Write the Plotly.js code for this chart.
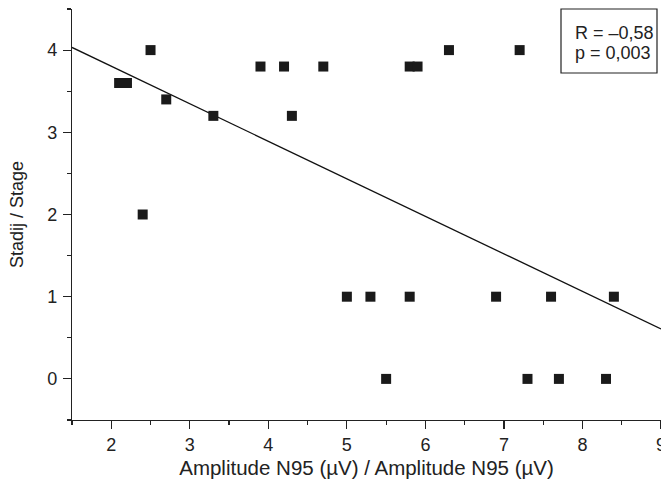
<!DOCTYPE html>
<html>
<head>
<meta charset="utf-8">
<script src="https://cdn.plot.ly/plotly-3.0.1.min.js"></script>
<style>html,body{margin:0;padding:0;background:#fff;overflow:hidden;}</style>
</head>
<body>
<div id="chart" style="width:661px;height:492px;"></div>
<script>
// Data
const amplitudeN95 = [2.1, 2.2, 2.5, 2.7, 3.3, 2.4, 3.9, 4.2, 4.3, 4.7, 5.8, 5.9, 6.3, 7.2,
                      5.0, 5.3, 5.8, 6.9, 7.6, 8.4, 5.5, 7.3, 7.7, 8.3];
const stage = [3.6, 3.6, 4, 3.4, 3.2, 2, 3.8, 3.8, 3.2, 3.8, 3.8, 3.8, 4, 4,
               1, 1, 1, 1, 1, 1, 0, 0, 0, 0];
const fitRangeX = [1.5, 9];
const xTickVals = [2, 3, 4, 5, 6, 7, 8, 9];
const yTickVals = [0, 1, 2, 3, 4];
const statsLabel = ["R = \u20130,58", "p = 0,003"];

// Least-squares regression line computed from the data
const n = amplitudeN95.length;
const mx = amplitudeN95.reduce((a, b) => a + b, 0) / n;
const my = stage.reduce((a, b) => a + b, 0) / n;
let sxy = 0, sxx = 0;
for (let i = 0; i < n; i++) {
  sxy += (amplitudeN95[i] - mx) * (stage[i] - my);
  sxx += (amplitudeN95[i] - mx) ** 2;
}
const slope = sxy / sxx;
const intercept = my - slope * mx;
const fitY = fitRangeX.map(x => intercept + slope * x);

const ink = "#222";
const font = {family: "Liberation Sans, Arial, sans-serif", size: 18, color: ink};

const traces = [
  {
    x: fitRangeX, y: fitY, mode: "lines", type: "scatter",
    line: {color: "#111", width: 1.3}, hoverinfo: "skip"
  },
  {
    x: amplitudeN95, y: stage, mode: "markers", type: "scatter",
    marker: {symbol: "square", size: 10, color: "#1a1a1a"}, cliponaxis: false
  }
];

const layout = {
  width: 661, height: 492,
  margin: {l: 72, r: 0, t: 9, b: 72},
  paper_bgcolor: "#fff", plot_bgcolor: "#fff",
  showlegend: false,
  font: font,
  xaxis: {
    range: [1.5, 9], tickvals: xTickVals, ticktext: xTickVals.map(String),
    showgrid: false, zeroline: false, showline: true, linecolor: ink, linewidth: 1.2,
    ticks: "outside", ticklen: 8, tickwidth: 1.2, tickcolor: ink,
    minor: {dtick: 0.5, tick0: 0, ticks: "outside", ticklen: 4, tickwidth: 1.2, tickcolor: ink, showgrid: false},
    ticklabeloverflow: "allow",
    tickfont: {size: 18},
    title: {text: "Amplitude N95 (\u00b5V) / Amplitude N95 (\u00b5V)", font: {size: 20.5}, standoff: 6},
    automargin: false
  },
  yaxis: {
    range: [-0.5, 4.5], tickvals: yTickVals, ticktext: yTickVals.map(String),
    showgrid: false, zeroline: false, showline: true, linecolor: ink, linewidth: 1.2,
    ticks: "outside", ticklen: 8, tickwidth: 1.2, tickcolor: ink,
    minor: {dtick: 0.5, tick0: 0.5, ticks: "outside", ticklen: 4, tickwidth: 1.2, tickcolor: ink, showgrid: false},
    tickfont: {size: 18},
    ticklabelstandoff: 2,
    title: {text: "Stadij / Stage", font: {size: 18}, standoff: 18},
    automargin: false
  },
  shapes: [{
    type: "rect", xref: "paper", yref: "paper",
    x0: (561 - 72) / 589, x1: (657 - 72) / 589, y0: (420 - 73) / 411, y1: 1.0,
    line: {color: ink, width: 1.2}, fillcolor: "#fff", layer: "above"
  }],
  annotations: statsLabel.map((t, i) => ({
    xref: "paper", yref: "paper",
    x: (573 - 72) / 589, y: (420 - (33 + i * 19.5)) / 411,
    xanchor: "left", yanchor: "middle",
    text: t, align: "left", showarrow: false,
    font: {size: 18, color: ink}
  }))
};

Plotly.newPlot("chart", traces, layout, {displayModeBar: false, staticPlot: true});
</script>
</body>
</html>
